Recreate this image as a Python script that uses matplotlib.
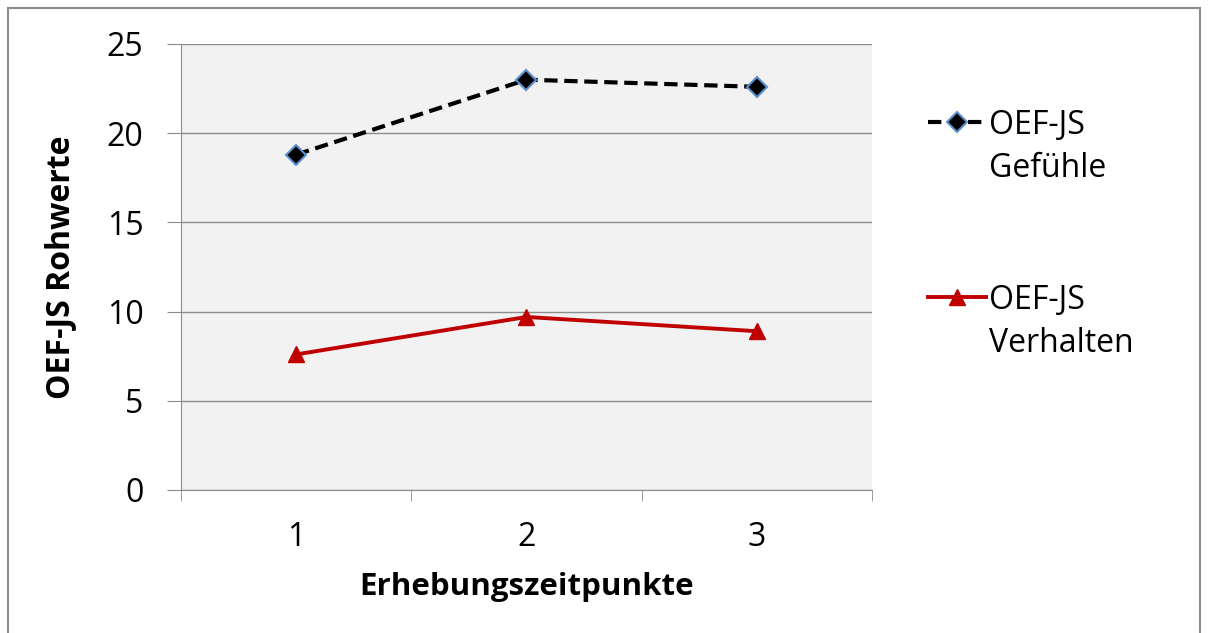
import numpy as np
import matplotlib.pyplot as plt
from matplotlib.patches import Rectangle

# Daten
zeitpunkte = [1, 2, 3]
gefuehle = [18.8, 23.0, 22.6]
verhalten = [7.6, 9.7, 8.9]

plt.rcParams['font.family'] = ['Open Sans', 'DejaVu Sans']

W, H = 1208, 633
fig = plt.figure(figsize=(W / 100, H / 100), dpi=100)
ax = fig.add_axes([181 / W, 1 - 490 / H, 691 / W, 446 / H])
ax.set_facecolor('#f2f2f2')

x = np.arange(1, len(zeitpunkte) + 1)
ax.plot(x, gefuehle, color='black', linestyle=(0, (3.2, 1.6)), linewidth=3,
        marker='D', markersize=10, markerfacecolor='black',
        markeredgecolor='#5b8fd0', markeredgewidth=1.5,
        label='OEF-JS\nGefühle')
ax.plot(x, verhalten, color='#c00000', linewidth=2.8,
        marker='^', markersize=12, markerfacecolor='#c00000',
        markeredgecolor='#c00000', label='OEF-JS\nVerhalten')

ax.set_xlim(0.5, 3.5)
ax.set_ylim(0, 25)
ax.set_yticks(np.arange(0, 26, 5))
ax.set_xticks(x)
ax.set_xticklabels([str(z) for z in zeitpunkte])
ax.set_xticks([0.5, 1.5, 2.5, 3.5], minor=True)
ax.tick_params(axis='x', which='major', length=0, labelsize=23, pad=22)
ax.tick_params(axis='x', which='minor', length=8, color='#8c8c8c', direction='out')
ax.tick_params(axis='y', length=10, color='#8c8c8c', labelsize=23, pad=17)
ax.grid(axis='y', color='#8c8c8c', linewidth=1)
ax.set_axisbelow(True)
for s in ['top', 'right']:
    ax.spines[s].set_visible(False)
for s in ['left', 'bottom']:
    ax.spines[s].set_color('#8c8c8c')

ax.set_xlabel('Erhebungszeitpunkte', fontsize=22.5, fontweight='bold', labelpad=13)
ax.set_ylabel('OEF-JS Rohwerte', fontsize=23, fontweight='bold')
ax.yaxis.set_label_coords((77 - 181) / 691, 0.5)

leg = ax.legend(loc='upper left', bbox_to_anchor=(928 / W, 1 - 109 / H),
                bbox_transform=fig.transFigure, frameon=False,
                fontsize=23, handlelength=1.8, handleheight=1.0,
                handletextpad=0.1, labelspacing=3.1,
                borderpad=0, borderaxespad=0)
for t in leg.get_texts():
    t.set_linespacing(1.4)
# Symbol auf die erste Textzeile ausrichten
for col in leg._legend_handle_box.get_children():
    for item in col.get_children():
        item.align = 'top'

# grauer Rahmen um das Diagramm
fig.patches.append(Rectangle((8 / W, -0.05), 1192 / W, 1.05 - 8 / H,
                             transform=fig.transFigure, fill=False,
                             edgecolor='#8c8c8c', linewidth=1.5))

fig.savefig('out.png', dpi=100)
